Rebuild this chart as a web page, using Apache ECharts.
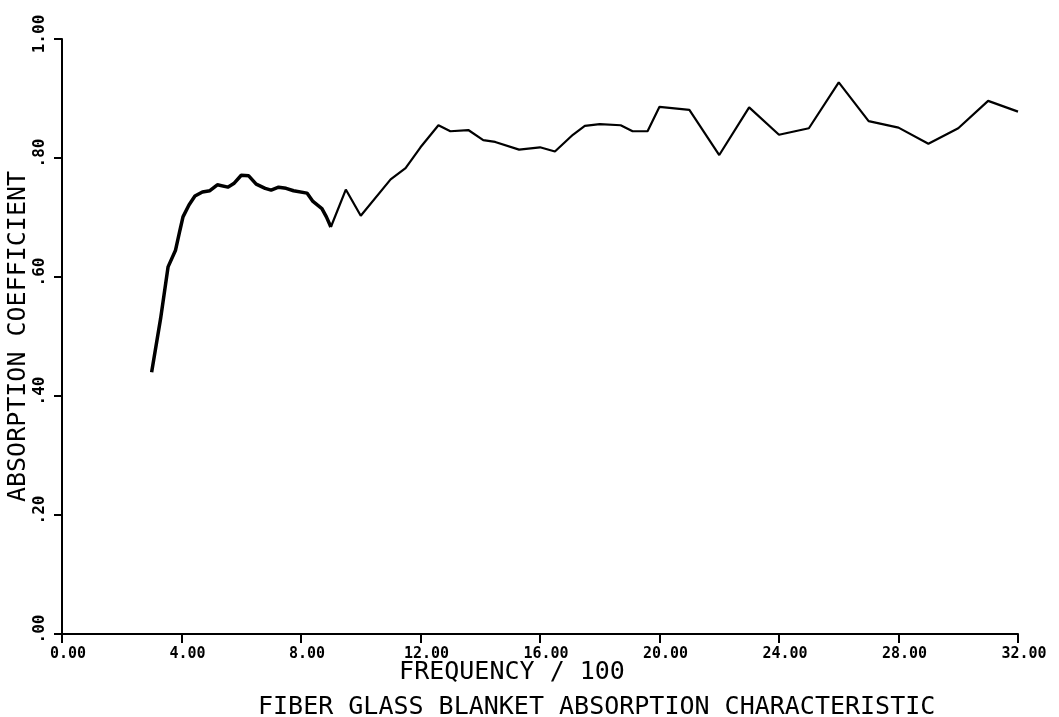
<!DOCTYPE html>
<html>
<head>
<meta charset="utf-8">
<script src="https://cdn.jsdelivr.net/npm/echarts@6/dist/echarts.min.js"></script>
<style>
  html, body { margin: 0; padding: 0; background: #fff; }
  #chart { width: 1059px; height: 717px; }
</style>
</head>
<body>
<div id="chart"></div>
<script>
// tick labels as printed on the plot
var xTickLabels = ['0.00', '4.00', '8.00', '12.00', '16.00', '20.00', '24.00', '28.00', '32.00'];
var yTickLabels = ['.00', '.20', '.40', '.60', '.80', '1.00'];

// dense low-frequency run (drawn heavier on the original)
var freqLow = [3.0, 3.3, 3.55, 3.8, 3.95, 4.05, 4.25, 4.45, 4.7, 4.95, 5.2, 5.55, 5.75, 6.0,
    6.25, 6.5, 6.8, 7.0, 7.25, 7.5, 7.75, 8.2, 8.4, 8.7, 8.85, 9.0];
var absLow = [0.44, 0.53, 0.617, 0.645, 0.679, 0.701, 0.721, 0.736, 0.743, 0.745, 0.755, 0.751, 0.757, 0.771,
    0.770, 0.756, 0.749, 0.746, 0.751, 0.749, 0.745, 0.741, 0.727, 0.715, 0.701, 0.684];

// rest of the curve
var freqHigh = [9.0, 9.5, 10.0, 11.0, 11.5, 12.0, 12.6, 13.0, 13.6, 14.1, 14.5, 15.3, 16.0, 16.5,
    17.1, 17.5, 18.0, 18.7, 19.1, 19.6, 20.0, 21.0, 22.0, 23.0, 24.0, 25.0, 26.0, 27.0,
    28.0, 29.0, 30.0, 31.0, 32.0];
var absHigh = [0.684, 0.747, 0.703, 0.764, 0.783, 0.818, 0.855, 0.845, 0.847, 0.830, 0.827, 0.814, 0.818, 0.811,
    0.839, 0.854, 0.857, 0.855, 0.845, 0.845, 0.886, 0.881, 0.805, 0.885, 0.839, 0.850, 0.927, 0.862,
    0.851, 0.824, 0.850, 0.896, 0.878];

function pairs(xs, ys) {
    var out = [];
    for (var i = 0; i < xs.length; i++) {
        out.push([xs[i], ys[i]]);
    }
    return out;
}

var FONT = 'DejaVu Sans Mono';
var chart = echarts.init(document.getElementById('chart'), null, {renderer: 'canvas'});

var option = {
    animation: false,
    backgroundColor: '#fff',
    title: {
        text: 'FIBER GLASS BLANKET ABSORPTION CHARACTERISTIC',
        left: 258,
        top: 695,
        padding: 0,
        textStyle: {fontFamily: FONT, fontSize: 25, fontWeight: 'normal', color: '#000'}
    },
    grid: {left: 62, right: 41, top: 39, bottom: 83, containLabel: false, outerBoundsMode: 'none'},
    xAxis: {
        type: 'value',
        min: 0,
        max: 32,
        interval: 4,
        name: 'FREQUENCY / 100',
        nameLocation: 'middle',
        nameGap: 26,
        nameMoveOverlap: false,
        nameTextStyle: {fontFamily: FONT, fontSize: 25, color: '#000', padding: [0, 56, 0, 0], verticalAlign: 'top'},
        axisLine: {onZero: false, lineStyle: {color: '#000', width: 2}},
        axisTick: {inside: false, length: 9, lineStyle: {color: '#000', width: 2}},
        splitLine: {show: false},
        axisLabel: {
            margin: 13,
            fontFamily: FONT,
            fontSize: 15,
            fontWeight: 'bold',
            color: '#000',
            padding: [0, 0, 0, 12],
            formatter: function (v) {
                return xTickLabels[Math.round(v / 4)];
            }
        }
    },
    yAxis: {
        type: 'value',
        min: 0,
        max: 1,
        interval: 0.2,
        name: 'ABSORPTION COEFFICIENT',
        nameLocation: 'middle',
        nameGap: 31,
        nameMoveOverlap: false,
        nameTextStyle: {fontFamily: FONT, fontSize: 25, color: '#000'},
        axisLine: {onZero: false, lineStyle: {color: '#000', width: 2}},
        axisTick: {inside: false, length: 8, lineStyle: {color: '#000', width: 2}},
        splitLine: {show: false},
        axisLabel: {
            rotate: 90,
            margin: 14,
            fontFamily: FONT,
            fontSize: 16,
            fontWeight: 'bold',
            color: '#000',
            padding: [0, 0, 0, 10],
            formatter: function (v) {
                return yTickLabels[Math.round(v / 0.2)];
            }
        }
    },
    series: [
        {
            type: 'line',
            data: pairs(freqLow, absLow),
            symbol: 'none',
            smooth: false,
            lineStyle: {color: '#000', width: 3.5},
            z: 3
        },
        {
            type: 'line',
            data: pairs(freqHigh, absHigh),
            symbol: 'none',
            smooth: false,
            lineStyle: {color: '#000', width: 2.2},
            z: 2
        }
    ]
};

chart.setOption(option);
</script>
</body>
</html>
